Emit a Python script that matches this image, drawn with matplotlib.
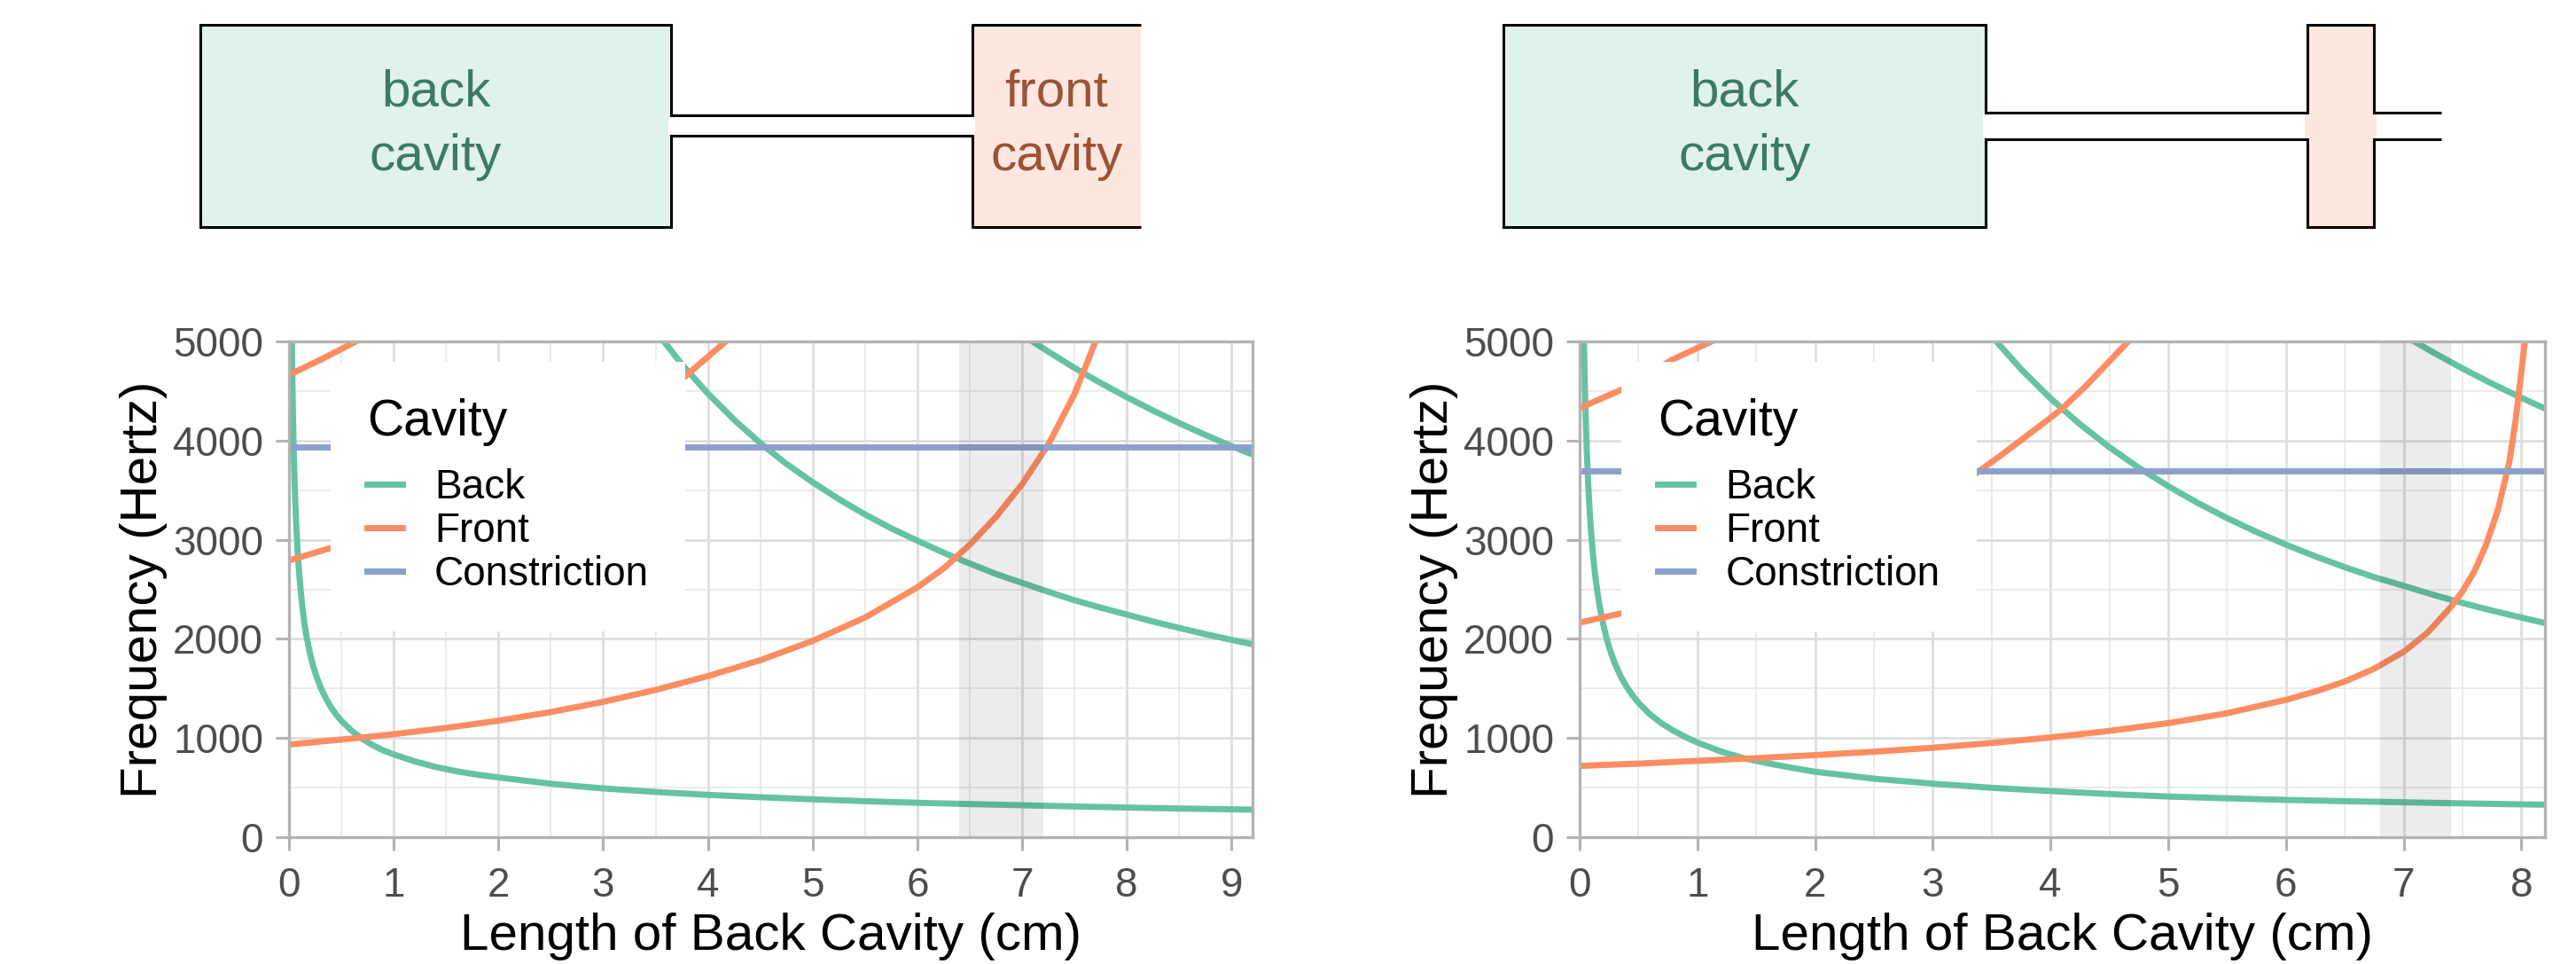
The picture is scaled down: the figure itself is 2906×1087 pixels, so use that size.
import matplotlib
matplotlib.use("Agg")
import matplotlib.pyplot as plt
from matplotlib.patches import Rectangle
from matplotlib.lines import Line2D
from matplotlib.ticker import MultipleLocator

plt.rcParams['font.family'] = ['Liberation Sans', 'DejaVu Sans']

# ---------------- data ----------------
categories = ["Back", "Front", "Constriction"]

# left panel
left_back1_x = [0.026, 0.03, 0.035, 0.04, 0.045, 0.05, 0.06, 0.07, 0.08, 0.09, 0.1, 0.115, 0.13, 0.15, 0.17, 0.2,
                0.23, 0.26, 0.3, 0.35, 0.4, 0.45, 0.5, 0.6, 0.7, 0.8, 0.9, 1.0, 1.2, 1.4, 1.6, 1.8, 2.0, 2.25, 2.5,
                2.75, 3.0, 3.5, 4.0, 4.5, 5.0, 5.5, 6.0, 6.5, 7.0, 7.5, 8.0, 8.5, 9.0, 9.2]
left_back1_y = [5150, 4790, 4430, 4150, 3910, 3710, 3390, 3140, 2930, 2770, 2625, 2450, 2300, 2140, 2010, 1855,
                1730, 1630, 1515, 1405, 1312, 1237, 1174, 1072, 992, 928, 875, 835, 765, 708, 665, 630, 603, 570, 540,
                514, 492, 456, 427, 403, 382, 363, 347, 334, 322, 310, 299, 289, 281, 278]
left_back2_x = [3.5, 3.58, 3.75, 4.0, 4.25, 4.5, 4.75, 5.0, 5.25, 5.5, 5.75, 6.0, 6.25, 6.5, 6.75, 7.0, 7.25, 7.5,
                7.75, 8.0, 8.25, 8.5, 8.75, 9.0, 9.2]
left_back2_y = [5110, 5000, 4770, 4475, 4210, 3975, 3765, 3580, 3410, 3255, 3115, 2990, 2870, 2760, 2655, 2565,
                2475, 2390, 2315, 2245, 2175, 2110, 2048, 1990, 1946]
left_back3_x = [7.0, 7.1, 7.25, 7.5, 7.75, 8.0, 8.25, 8.5, 8.75, 9.0, 9.2]
left_back3_y = [5070, 5000, 4897, 4733, 4581, 4438, 4303, 4176, 4057, 3944, 3859]
left_front1_x = [0, 0.68, 1, 1.5, 2, 2.5, 3, 3.5, 4, 4.5, 5, 5.5, 6, 6.25, 6.5, 6.75, 7, 7.25, 7.5, 7.6, 7.7, 7.78]
left_front1_y = [934, 1003, 1039, 1102, 1175, 1262, 1365, 1485, 1625, 1785, 1980, 2215, 2520, 2710, 2950, 3230,
                 3560, 3960, 4470, 4730, 5000, 5250]
left_front2_x = [0, 0.47, 1.0, 1.5, 2.0, 2.5, 3.0, 3.5, 3.73, 4.0, 4.17, 4.25]
left_front2_y = [2790, 2940, 3110, 3280, 3460, 3660, 3900, 4350, 4600, 4845, 5000, 5070]
left_front3_x = [0, 0.3, 0.64, 0.7]
left_front3_y = [4663, 4815, 5000, 5035]
left_constriction = 3935
left_xmax = 9.2
left_band = (6.4, 7.2)
left_xticks = [0, 1, 2, 3, 4, 5, 6, 7, 8, 9]

# right panel
right_back1_x = [0.034, 0.037, 0.04, 0.045, 0.05, 0.06, 0.07, 0.08, 0.09, 0.1, 0.115, 0.13, 0.15, 0.17, 0.2, 0.23,
                 0.26, 0.3, 0.35, 0.4, 0.45, 0.5, 0.6, 0.7, 0.8, 0.9, 1.0, 1.2, 1.4, 1.6, 1.8, 2.0, 2.5, 3.0, 3.5,
                 4.0, 4.5, 5.0, 5.5, 6.0, 6.5, 7.0, 7.5, 8.0, 8.2]
right_back1_y = [5200, 5000, 4800, 4530, 4290, 3920, 3630, 3395, 3200, 3040, 2830, 2660, 2480, 2330, 2150, 2000,
                 1880, 1750, 1620, 1515, 1430, 1355, 1237, 1145, 1072, 1010, 955, 864, 795, 745, 700, 660, 590, 540,
                 498, 465, 435, 410, 392, 376, 363, 352, 341, 331, 328]
right_back2_x = [3.5, 3.54, 3.75, 4.0, 4.25, 4.5, 4.75, 5.0, 5.25, 5.5, 5.75, 6.0, 6.25, 6.5, 6.75, 7.0, 7.25, 7.5,
                 7.75, 8.0, 8.2]
right_back2_y = [5057, 5000, 4720, 4425, 4165, 3933, 3726, 3540, 3371, 3218, 3078, 2950, 2832, 2723, 2622, 2535,
                 2445, 2362, 2286, 2215, 2160]
right_back3_x = [7.0, 7.09, 7.25, 7.5, 7.75, 8.0, 8.2]
right_back3_y = [5064, 5000, 4890, 4727, 4574, 4431, 4323]
right_front1_x = [0, 0.5, 1, 1.5, 2, 2.5, 3, 3.5, 4, 4.5, 5, 5.5, 6, 6.25, 6.5, 6.75, 7, 7.2, 7.4, 7.5, 7.6, 7.7,
                  7.8, 7.9, 7.95, 8.0, 8.03, 8.06]
right_front1_y = [719, 742, 770, 797, 828, 862, 902, 950, 1006, 1072, 1150, 1250, 1385, 1470, 1570, 1700, 1870,
                  2060, 2320, 2480, 2680, 2950, 3300, 3800, 4200, 4700, 5000, 5400]
right_front2_x = [0, 0.4, 1, 1.5, 2, 2.5, 3, 3.315, 3.6, 4.0, 4.1, 4.3, 4.5, 4.66, 4.72]
right_front2_y = [2164, 2269, 2450, 2620, 2810, 3030, 3330, 3625, 3870, 4230, 4324, 4550, 4800, 5000, 5070]
right_front3_x = [0, 0.4, 0.78, 1.12, 1.2]
right_front3_y = [4328, 4537, 4812, 5000, 5045]
right_constriction = 3690
right_xmax = 8.2
right_band = (6.8, 7.4)
right_xticks = [0, 1, 2, 3, 4, 5, 6, 7, 8]

# ---------------- style ----------------
GREEN, ORANGE, BLUE = '#66C2A5', '#FC8D62', '#8DA0CB'
W, H = 2906, 1087
fig = plt.figure(figsize=(W / 100, H / 100), dpi=100)

# ---------------- schematics (pixel coordinates) ----------------
sk = fig.add_axes([0, 0, 1, 1])
sk.set_xlim(0, W)
sk.set_ylim(H, 0)
sk.axis('off')
LW = 2.2
BACK_FILL, FRONT_FILL = '#E0F2EC', '#FEE7DF'
BACK_TXT, FRONT_TXT = '#3D7A63', '#9C5236'
TXT_KW = dict(ha='center', va='center', fontsize=42, linespacing=1.45)

# left
sk.add_patch(Rectangle((226, 28), 531, 228, facecolor=BACK_FILL, edgecolor='black', lw=LW))
sk.add_patch(Rectangle((1097, 28), 190, 228, facecolor=FRONT_FILL, edgecolor='none'))
sk.plot([1287, 1097, 1097, 1287], [28, 28, 256, 256], color='black', lw=LW, solid_capstyle='butt')
sk.add_patch(Rectangle((754, 131.5), 346, 20, facecolor='white', edgecolor='none', zorder=3))
sk.plot([757, 1097], [130, 130], color='black', lw=LW, zorder=4, solid_capstyle='butt')
sk.plot([757, 1097], [153, 153], color='black', lw=LW, zorder=4, solid_capstyle='butt')
sk.text(491.5, 141, "back\ncavity", color=BACK_TXT, **TXT_KW)
sk.text(1192, 141, "front\ncavity", color=FRONT_TXT, **TXT_KW)

# right
sk.add_patch(Rectangle((1696, 28), 544, 228, facecolor=BACK_FILL, edgecolor='black', lw=LW))
sk.add_patch(Rectangle((2603, 28), 75, 228, facecolor=FRONT_FILL, edgecolor='black', lw=LW))
sk.add_patch(Rectangle((2237, 128.5), 6, 27, facecolor='white', edgecolor='none', zorder=3))
sk.add_patch(Rectangle((2600, 128.5), 81, 27, facecolor=FRONT_FILL, edgecolor='none', zorder=3))
for yy in (127, 157):
    sk.plot([2240, 2603], [yy, yy], color='black', lw=LW, zorder=4, solid_capstyle='butt')
    sk.plot([2678, 2754], [yy, yy], color='black', lw=LW, zorder=4, solid_capstyle='butt')
sk.text(1968, 141, "back\ncavity", color=BACK_TXT, **TXT_KW)


def panel(ax, backs, fronts, constr, xmax, band, xticks):
    ax.set_xlim(0, xmax)
    ax.set_ylim(0, 5000)
    ax.set_xticks(xticks)
    ax.xaxis.set_minor_locator(MultipleLocator(0.5))
    ax.yaxis.set_major_locator(MultipleLocator(1000))
    ax.yaxis.set_minor_locator(MultipleLocator(500))
    ax.grid(which='major', color='#DEDEDE', lw=2.0)
    ax.grid(which='minor', color='#E6E6E6', lw=1.1)
    ax.set_axisbelow(True)
    for s in ax.spines.values():
        s.set_color('#B3B3B3')
        s.set_linewidth(2.4)
        s.set_zorder(10)
    ax.tick_params(which='major', length=10.8, width=2.2, color='#B3B3B3',
                   labelsize=33, labelcolor='#4D4D4D', pad=10)
    ax.tick_params(axis='x', which='major', pad=13)
    ax.tick_params(which='minor', length=0)
    lw = 5.0
    for bx, by in backs:
        ax.plot(bx, by, color=GREEN, lw=lw, solid_capstyle='butt', solid_joinstyle='round', zorder=3)
    for fx, fy in fronts:
        ax.plot(fx, fy, color=ORANGE, lw=lw, solid_capstyle='butt', solid_joinstyle='round', zorder=3)
    ax.plot([0, xmax], [constr, constr], color=BLUE, lw=lw, solid_capstyle='butt', zorder=3)
    ax.axvspan(band[0], band[1], color='black', alpha=0.075, lw=0, zorder=4)
    handles = [Line2D([], [], color=c, lw=lw) for c in (GREEN, ORANGE, BLUE)]
    leg = ax.legend(handles, categories, title='Cavity', loc='upper left',
                    bbox_to_anchor=(0.043, 0.959), borderaxespad=0,
                    frameon=True, facecolor='white', edgecolor='none', framealpha=1,
                    fancybox=False, fontsize=33, title_fontsize=41,
                    handlelength=0.87, handletextpad=0.79, borderpad=0.9,
                    labelspacing=0.11, alignment='left')
    leg.set_zorder(20)
    leg._legend_box.sep = 18
    ax.set_xlabel('Length of Back Cavity (cm)', fontsize=42)
    ax.set_ylabel('Frequency (Hertz)', fontsize=42)
    ax.xaxis.set_label_coords(0.5, -0.152)
    ax.yaxis.set_label_coords(-0.126, 0.5)


axL = fig.add_axes([326 / W, 1 - 944 / H, 1087 / W, 559 / H])
panel(axL,
      [(left_back1_x, left_back1_y), (left_back2_x, left_back2_y), (left_back3_x, left_back3_y)],
      [(left_front1_x, left_front1_y), (left_front2_x, left_front2_y), (left_front3_x, left_front3_y)],
      left_constriction, left_xmax, left_band, left_xticks)

axR = fig.add_axes([1782 / W, 1 - 944 / H, 1089 / W, 559 / H])
panel(axR,
      [(right_back1_x, right_back1_y), (right_back2_x, right_back2_y), (right_back3_x, right_back3_y)],
      [(right_front1_x, right_front1_y), (right_front2_x, right_front2_y), (right_front3_x, right_front3_y)],
      right_constriction, right_xmax, right_band, right_xticks)

fig.savefig('out.png', dpi=100, facecolor='white')
